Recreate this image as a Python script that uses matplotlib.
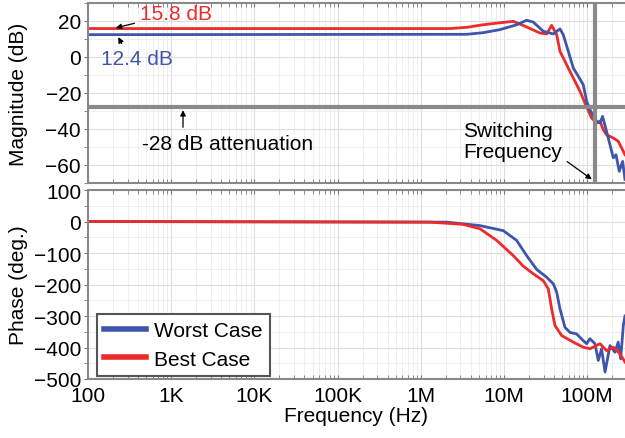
import matplotlib
matplotlib.use("Agg")
import matplotlib.pyplot as plt
from matplotlib.ticker import LogLocator, FixedLocator, MultipleLocator, NullFormatter

plt.rcParams['font.family'] = ['Liberation Sans', 'DejaVu Sans']

# magnitude (dB)
f_mag_best = [1e2, 2.24e6, 3.6e6, 5.59e6, 8.9e6, 1.29e7, 1.69e7, 2.71e7, 3.26e7, 3.74e7,
              4.30e7, 4.71e7, 6.21e7, 8.19e7, 9.41e7, 1.13e8, 1.30e8, 1.43e8, 1.56e8,
              1.71e8, 2.06e8, 2.36e8, 2.60e8, 2.85e8]
mag_best = [15.8, 15.8, 16.5, 17.9, 19.0, 19.8, 17.6, 13.3, 12.8, 17.6,
            12.4, 3.2, -8.0, -19.0, -25.6, -33.9, -36.7, -35.7, -40.4,
            -43.2, -45.0, -46.8, -50.6, -54.3]
f_mag_worst = [1e2, 3.56e6, 5.6e6, 8.95e6, 1.42e7, 1.87e7, 2.25e7, 2.97e7, 3.92e7, 4.71e7,
               5.16e7, 5.93e7, 6.81e7, 7.82e7, 8.98e7, 9.86e7, 1.08e8, 1.30e8, 1.43e8,
               1.53e8, 1.64e8, 1.88e8, 2.06e8, 2.22e8, 2.43e8, 2.67e8, 2.85e8]
mag_worst = [12.4, 12.6, 13.5, 15.2, 17.9, 20.4, 19.4, 14.3, 12.8, 15.6,
             12.4, 3.2, -6.1, -10.7, -15.4, -24.6, -29.3, -35.7, -36.7,
             -33.0, -38.1, -48.7, -56.0, -54.3, -63.5, -58.0, -68.0]

# phase (deg.)
f_ph_best = [1e2, 1.29e6, 3.2e6, 5.15e6, 8.17e6, 1.29e7, 1.71e7, 2.25e7, 2.97e7, 3.41e7,
             3.74e7, 4.10e7, 4.94e7, 6.81e7, 8.98e7, 1.08e8, 1.43e8, 1.71e8, 2.06e8,
             2.48e8, 2.85e8]
ph_best = [0, -2, -9, -23, -60, -108, -142, -166, -188, -214,
           -277, -330, -362, -383, -399, -404, -388, -410, -399, -420, -446]
f_ph_worst = [1e2, 2.05e6, 5.15e6, 9.8e6, 1.42e7, 1.87e7, 2.47e7, 3.26e7, 3.92e7, 4.30e7,
              4.71e7, 5.41e7, 6.21e7, 7.47e7, 8.57e7, 9.86e7, 1.08e8, 1.24e8, 1.36e8,
              1.49e8, 1.64e8, 1.88e8, 2.16e8, 2.36e8, 2.53e8, 2.72e8, 2.85e8]
ph_worst = [0, -2, -13, -29, -60, -108, -152, -177, -198, -224,
            -277, -336, -352, -357, -373, -388, -372, -388, -441,
            -404, -478, -394, -415, -383, -436, -330, -300]

f_switch = 1.25e8
atten_db = -28
xticks = [1e2, 1e3, 1e4, 1e5, 1e6, 1e7, 1e8]
xticklabels = ['100', '1K', '10K', '100K', '1M', '10M', '100M']

red = '#ee2a2a'
blue = '#3f55ab'
gray = '#8a8a8a'
fs = 15

fig = plt.figure(figsize=(6.25, 4.39), dpi=100)
ax1 = fig.add_axes([0.1408, 0.5809, 0.8592, 0.41])
ax2 = fig.add_axes([0.1408, 0.1344, 0.8592, 0.4305])

for ax in (ax1, ax2):
    ax.set_xscale('log')
    ax.set_xlim(1e2, 2.85e8)
    ax.xaxis.set_major_locator(FixedLocator(xticks))
    ax.xaxis.set_minor_locator(LogLocator(base=10, subs=range(2, 10), numticks=20))
    ax.xaxis.set_minor_formatter(NullFormatter())
    ax.grid(True, which='major', color='#dddddd', lw=0.8)
    ax.grid(True, which='minor', color='#ececec', lw=0.6)
    ax.tick_params(axis='x', which='both', direction='in', top=True, length=3,
                   color='#777777', labelsize=fs, pad=5)
    ax.tick_params(axis='y', which='both', direction='out', length=3,
                   color='#777777', labelsize=fs, pad=2)
    for s in ['left', 'top', 'bottom']:
        ax.spines[s].set_color('#888888')
        ax.spines[s].set_linewidth(1.5)
    ax.spines['right'].set_visible(False)

# magnitude
ax1.plot(f_mag_best, mag_best, color=red, lw=2)
ax1.plot(f_mag_worst, mag_worst, color=blue, lw=2)
ax1.axhline(atten_db, color=gray, lw=3)
ax1.axvline(f_switch, color=gray, lw=3)
ax1.set_ylim(-70, 30)
ax1.set_yticks([-60, -40, -20, 0, 20])
ax1.yaxis.set_minor_locator(MultipleLocator(10))
ax1.set_xticklabels([])
ax1.set_ylabel('Magnitude (dB)', fontsize=fs)
ax1.yaxis.set_label_coords(-0.112, 0.5)

arw = dict(arrowstyle='-|>', color='black', lw=0.9, mutation_scale=8)
ax1.annotate('15.8 dB', xy=(200, 15.8), xytext=(422, 24.4), color=red, fontsize=fs,
             va='center', ha='left', arrowprops=arw)
ax1.annotate('12.4 dB', xy=(223, 12.4), xytext=(143, -1.1), color=blue, fontsize=fs,
             va='center', ha='left')
ax1.annotate('', xy=(223, 12.4), xytext=(263, 6.1), arrowprops=arw)
ax1.annotate('-28 dB attenuation', xy=(1387, atten_db), xytext=(446, -47.8),
             fontsize=fs, va='center', ha='left')
ax1.annotate('', xy=(1387, atten_db), xytext=(1387, -40.6), arrowprops=arw)
ax1.text(3.2e6, -46.7, 'Switching\nFrequency', fontsize=fs, va='center', ha='left',
         linespacing=1.15)
ax1.annotate('', xy=(1.21e8, -68.9), xytext=(5.4e7, -57.2), arrowprops=arw)

# phase
ax2.plot(f_ph_worst, ph_worst, color=blue, lw=2, label='Worst Case')
ax2.plot(f_ph_best, ph_best, color=red, lw=2, label='Best Case')
ax2.set_ylim(-500, 100)
ax2.set_yticks([-500, -400, -300, -200, -100, 0, 100])
ax2.yaxis.set_minor_locator(MultipleLocator(50))
ax2.set_xticklabels(xticklabels)
ax2.set_ylabel('Phase (deg.)', fontsize=fs)
ax2.yaxis.set_label_coords(-0.112, 0.5)
ax2.set_xlabel('Frequency (Hz)', fontsize=fs, labelpad=1)

leg = ax2.legend(loc='lower left', bbox_to_anchor=(0.017, 0.016), fontsize=fs,
                 fancybox=False, edgecolor='#555555', framealpha=1,
                 handlelength=2.0, handletextpad=0.4, borderpad=0.35,
                 labelspacing=0.45, borderaxespad=0)
leg.get_frame().set_linewidth(1.5)
for ln in leg.get_lines():
    ln.set_linewidth(4)

fig.savefig('out.png', dpi=100)
